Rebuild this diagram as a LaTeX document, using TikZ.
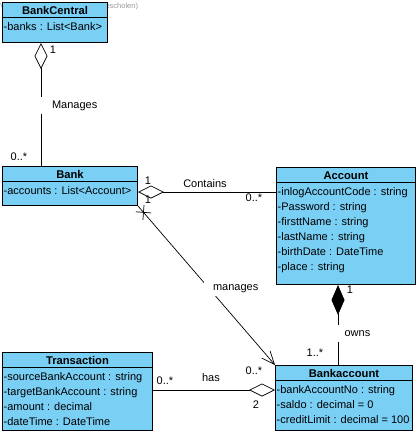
\documentclass[tikz,border=0pt]{standalone}
\usepackage{fontspec}
\setmainfont{Liberation Sans}
\usetikzlibrary{arrows.meta,calc,shapes.misc}
\definecolor{umlblue}{RGB}{122,207,245}

\begin{document}
\begin{tikzpicture}[
    x=1pt, y=-1pt,
    font=\fontsize{11}{13}\selectfont,
    % class boxes in the usual UML tool colours
    classbox/.style={
      draw=black,
      fill=umlblue,
      line width=1pt,
      anchor=north west,
      inner sep=0pt
    },
    ctitle/.style={
      draw=black,
      fill=umlblue,
      line width=1pt,
      anchor=north,
      inner sep=0pt,
      minimum height=15pt,
      text height=8pt,
      text depth=0pt,
      font=\fontsize{11.2}{13}\selectfont\bfseries
    },
    attr/.style={anchor=base west, inner sep=0pt},
    lbl/.style={inner sep=1.5pt, text height=8pt, text depth=2pt},
    gap/.style={lbl, fill=white, anchor=east, inner ysep=3.5pt},
    assoc/.style={draw=black, line width=0.7pt},
    aggr/.style={assoc, -{Diamond[open, length=26pt, width=13pt]}},
    comp/.style={assoc, -{Diamond[length=30pt, width=13pt]}},
    nav/.style={assoc, -{Straight Barb[length=13pt, width=11pt]}},
    nonav/.style={draw=black, line width=0.7pt, cross out, minimum size=10pt, inner sep=0pt, sloped}
  ]
  \useasboundingbox (0,0) rectangle (418,437);

  % Tool watermark
  \node[anchor=base west, inner sep=0pt, font=\fontsize{7.5}{9}\selectfont, text=gray!80] (wm) at (0,8) {Visual Paradigm Standard (Hogescholen)};

  % Classes
  \node[classbox, minimum width=105pt, minimum height=40pt] (bankcentral) at (2,2) {};
  \node[ctitle, minimum width=105pt] (bankcentral-t) at (bankcentral.north) {BankCentral};
  \node[attr] (bankcentral-a1) at ($(bankcentral.north west)+(1.5,28)$) {-banks : List<Bank>};

  \node[classbox, minimum width=135pt, minimum height=39pt] (bank) at (2,166) {};
  \node[ctitle, minimum width=135pt] (bank-t) at (bank.north) {Bank};
  \node[attr] (bank-a1) at ($(bank.north west)+(1.5,28)$) {-accounts : List<Account>};

  \node[classbox, minimum width=139pt, minimum height=117pt] (account) at (276,167) {};
  \node[ctitle, minimum width=139pt] (account-t) at (account.north) {Account};
  \foreach \a [count=\i] in {-inlogAccountCode : string, -Password : string, -firsttName : string, -lastName : string, -birthDate : DateTime, -place : string}
    \node[attr] (account-a\i) at ($(account.north west)+(1.5,13+15*\i)$) {\a};

  \node[classbox, minimum width=150pt, minimum height=78pt] (transaction) at (2,352) {};
  \node[ctitle, minimum width=150pt] (transaction-t) at (transaction.north) {Transaction};
  \foreach \a [count=\i] in {-sourceBankAccount : string, -targetBankAccount : string, -amount : decimal, -dateTime : DateTime}
    \node[attr] (transaction-a\i) at ($(transaction.north west)+(1.5,13+15*\i)$) {\a};

  \node[classbox, minimum width=137pt, minimum height=65pt] (bankaccount) at (275,365) {};
  \node[ctitle, minimum width=137pt] (bankaccount-t) at (bankaccount.north) {Bankaccount};
  \foreach \a [count=\i] in {-bankAccountNo : string, -saldo : decimal = 0, -creditLimit : decimal = 100}
    \node[attr] (bankaccount-a\i) at ($(bankaccount.north west)+(1.5,13+15*\i)$) {\a};

  % Associations
  \coordinate (bc-x) at ($(bankcentral.south west)+(39,0)$);
  \draw[aggr] (bc-x |- bank.north) -- (bc-x);
  \coordinate (bank-y) at ($(bank.north east)+(0,26)$);
  \draw[aggr] (account.west |- bank-y) -- (bank-y);
  \draw[nav] (bank.south east) -- node[nonav, pos=0.04] (bank-x) {} (bankaccount.north west);
  \coordinate (acc-x) at ($(account.south west)+(62,0)$);
  \draw[comp] (acc-x |- bankaccount.north) -- (acc-x);
  \coordinate (ba-y) at ($(bankaccount.north west)+(0,25)$);
  \draw[aggr] (transaction.east |- ba-y) -- (ba-y);

  % Labels and multiplicities
  \node[lbl] (m-bc) at (53,50) {1};
  \node[gap] (m-lbl) at (99,105) {\hspace{11pt}Manages};
  \node[lbl] (m-bank) at (19,157) {0..*};
  \node[lbl] (c-bank) at (148,181) {1};
  \node[lbl] (c-lbl) at (205,184) {Contains};
  \node[lbl] (c-acc) at (254,198) {0..*};
  \node[lbl] (mg-bank) at (148,200) {1};
  \node[gap] (mg-lbl) at (260,287) {\hspace{8pt}manages};
  \node[lbl] (mg-ba) at (254,371) {0..*};
  \node[lbl] (o-acc) at (350,290) {1};
  \node[gap] (o-lbl) at (372,333) {\hspace{6pt}owns};
  \node[lbl] (o-ba) at (315,353) {1..*};
  \node[lbl] (h-tr) at (165,381) {0..*};
  \node[lbl] (h-lbl) at (211,378) {has};
  \node[lbl] (h-ba) at (256,405) {2};
\end{tikzpicture}
\end{document}
